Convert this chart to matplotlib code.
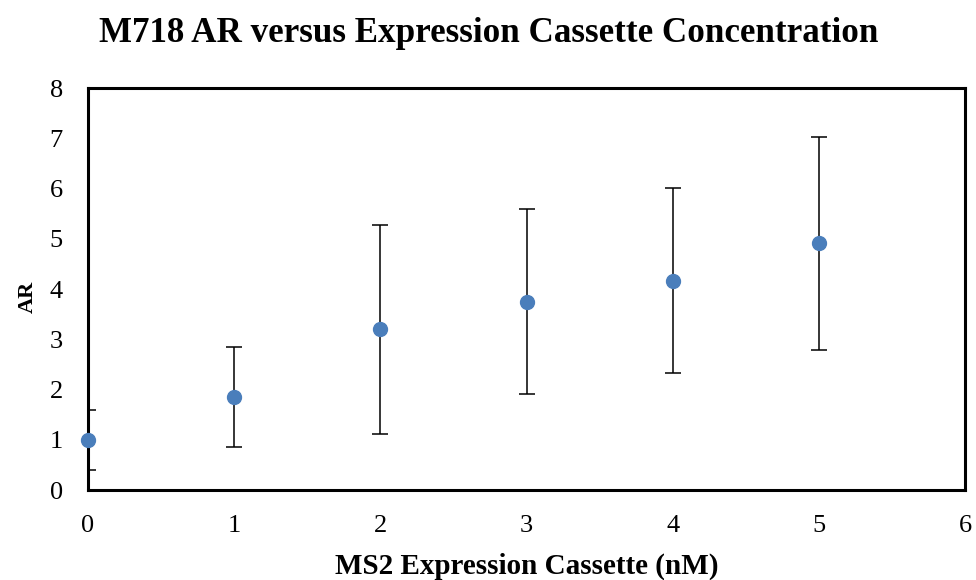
import matplotlib
matplotlib.use("Agg")
from matplotlib import pyplot as plt

# data
conc = [0, 1, 2, 3, 4, 5]
ar = [1.00, 1.85, 3.20, 3.75, 4.17, 4.91]
ar_err = [0.60, 0.99, 2.08, 1.84, 1.84, 2.12]

plt.rcParams['font.family'] = ['Liberation Serif', 'DejaVu Serif']

fig = plt.figure(figsize=(9.76, 5.80), dpi=100)
ax = fig.add_axes([0.090, 0.155, 0.899, 0.693])

# error bars stay clipped to the plot box (half caps at x=0), markers do not
ax.errorbar(conc, ar, yerr=ar_err, fmt='none', ecolor='black',
            elinewidth=1.1, capsize=6, capthick=1.1, zorder=2)
ax.plot(conc, ar, 'o', color='#4a7ebb', markersize=10, zorder=3, clip_on=False)

ax.set_xlim(0, 6)
ax.set_ylim(0, 8)
ax.set_xticks(range(0, 7))
ax.set_yticks(range(0, 9))
ax.tick_params(length=0, labelsize=19)
ax.tick_params(axis='x', pad=18)
ax.tick_params(axis='y', pad=18)
for s in ax.spines.values():
    s.set_linewidth(2.2)
    s.set_color('black')

ax.set_xlabel('MS2 Expression Cassette (nM)', fontsize=21, fontweight='bold')
ax.xaxis.set_label_coords(0.5, -0.155)
ax.set_ylabel('AR', fontsize=16, fontweight='bold')
ax.yaxis.set_label_coords(-0.057, 0.48)

fig.text(0.501, 1 - 42 / 580, 'M718 AR versus Expression Cassette Concentration',
         fontsize=25.2, fontweight='bold', ha='center', va='baseline')

fig.savefig('out.png', dpi=100)
